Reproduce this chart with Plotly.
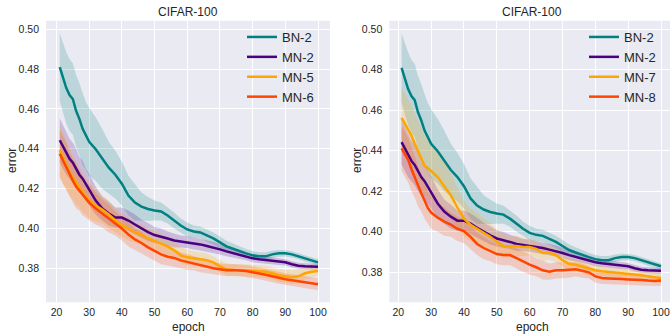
import plotly.graph_objects as go

epochs = [21, 22, 23, 24, 25, 26, 27, 28, 29, 30, 32, 34, 36, 38, 40, 42, 44, 46, 48, 50,
          52, 54, 56, 58, 60, 62, 64, 66, 68, 70, 72, 74, 76, 78, 80, 82, 84, 86, 88, 90,
          92, 94, 96, 98, 100]

bn2 = [0.481, 0.476, 0.4705, 0.467, 0.465, 0.459, 0.455, 0.450, 0.4465, 0.4435,
       0.4398, 0.435, 0.4305, 0.427, 0.4225, 0.4165, 0.413, 0.411, 0.4098, 0.409,
       0.4085, 0.4065, 0.404, 0.4015, 0.3995, 0.3985, 0.398, 0.3965, 0.395, 0.393,
       0.391, 0.3898, 0.3885, 0.3875, 0.3865, 0.386, 0.386, 0.387, 0.3875, 0.3875,
       0.387, 0.386, 0.3848, 0.384, 0.383]
bn2_sd = [0.017, 0.017, 0.018, 0.018, 0.018, 0.018, 0.018, 0.018, 0.017, 0.017,
          0.016, 0.015, 0.013, 0.012, 0.011, 0.010, 0.009, 0.007, 0.006, 0.005,
          0.0045, 0.004, 0.004, 0.0035, 0.0035, 0.003, 0.003, 0.003, 0.003, 0.003,
          0.0028, 0.0026, 0.0024, 0.0022, 0.002, 0.002, 0.002, 0.0018, 0.0017, 0.0016,
          0.0016, 0.0015, 0.0015, 0.0015, 0.0015]

mn2 = [0.4443, 0.441, 0.438, 0.435, 0.433, 0.430, 0.427, 0.425, 0.422, 0.4195,
       0.414, 0.410, 0.4075, 0.4055, 0.4055, 0.404, 0.402, 0.400, 0.3982, 0.3967,
       0.396, 0.395, 0.394, 0.3935, 0.3932, 0.3925, 0.392, 0.3912, 0.3905, 0.3895,
       0.3885, 0.3876, 0.3868, 0.386, 0.385, 0.3845, 0.3842, 0.3838, 0.3833, 0.383,
       0.382, 0.3813, 0.381, 0.381, 0.3808]
mn2_sd = [0.011, 0.011, 0.011, 0.010, 0.010, 0.010, 0.009, 0.009, 0.008, 0.008,
          0.007, 0.006, 0.006, 0.005, 0.005, 0.005, 0.005, 0.0045, 0.0045, 0.004,
          0.004, 0.0035, 0.0035, 0.003, 0.003, 0.003, 0.003, 0.003, 0.0028, 0.0026,
          0.0025, 0.0024, 0.0022, 0.002, 0.002, 0.002, 0.0018, 0.0018, 0.0017, 0.0016,
          0.0016, 0.0015, 0.0015, 0.0015, 0.0015]

mn5 = [0.4393, 0.4355, 0.432, 0.4285, 0.4255, 0.423, 0.4205, 0.418, 0.416, 0.414,
       0.4115, 0.4095, 0.407, 0.404, 0.4017, 0.400, 0.398, 0.397, 0.395, 0.3938,
       0.3926, 0.391, 0.389, 0.3865, 0.3855, 0.385, 0.3845, 0.384, 0.383, 0.381,
       0.3795, 0.379, 0.379, 0.379, 0.3788, 0.3785, 0.3783, 0.3775, 0.3765, 0.376,
       0.3755, 0.376, 0.3775, 0.3783, 0.3786]
mn5_sd = [0.013, 0.013, 0.012, 0.012, 0.011, 0.011, 0.010, 0.010, 0.009, 0.009,
          0.008, 0.007, 0.007, 0.006, 0.006, 0.006, 0.005, 0.005, 0.005, 0.005,
          0.0045, 0.0045, 0.004, 0.004, 0.004, 0.0035, 0.0035, 0.0035, 0.003, 0.003,
          0.003, 0.003, 0.003, 0.003, 0.003, 0.003, 0.003, 0.003, 0.0032, 0.0034,
          0.0035, 0.0035, 0.003, 0.003, 0.0025]

mn6 = [0.4375, 0.434, 0.431, 0.427, 0.424, 0.421, 0.419, 0.4165, 0.4145, 0.413,
       0.410, 0.4075, 0.405, 0.4025, 0.400, 0.397, 0.3945, 0.3927, 0.3905, 0.3888,
       0.387, 0.3858, 0.3852, 0.384, 0.3832, 0.3825, 0.3815, 0.381, 0.380, 0.3795,
       0.379, 0.3792, 0.379, 0.3786, 0.378, 0.3775, 0.3768, 0.376, 0.3752, 0.3745,
       0.374, 0.3735, 0.373, 0.3725, 0.372]
mn6_sd = [0.012, 0.012, 0.012, 0.011, 0.011, 0.011, 0.010, 0.010, 0.009, 0.009,
          0.008, 0.007, 0.007, 0.006, 0.006, 0.006, 0.0055, 0.0055, 0.005, 0.005,
          0.005, 0.0045, 0.0045, 0.004, 0.004, 0.0035, 0.0035, 0.0035, 0.003, 0.003,
          0.003, 0.003, 0.003, 0.003, 0.003, 0.003, 0.003, 0.003, 0.003, 0.003,
          0.003, 0.003, 0.003, 0.003, 0.003]

mn7 = [0.4563, 0.4535, 0.450, 0.4475, 0.4435, 0.440, 0.436, 0.4325, 0.4315, 0.430,
       0.427, 0.4225, 0.418, 0.412, 0.4065, 0.4035, 0.4015, 0.3995, 0.3975, 0.395,
       0.393, 0.3927, 0.393, 0.3925, 0.3925, 0.3915, 0.3895, 0.3897, 0.3885, 0.386,
       0.3842, 0.3837, 0.3828, 0.3817, 0.381, 0.3805, 0.3802, 0.3798, 0.3795, 0.3792,
       0.3792, 0.3786, 0.378, 0.3776, 0.377]
mn7_sd = [0.015, 0.015, 0.015, 0.015, 0.015, 0.015, 0.015, 0.015, 0.014, 0.014,
          0.013, 0.012, 0.011, 0.010, 0.009, 0.008, 0.008, 0.007, 0.007, 0.006,
          0.006, 0.005, 0.005, 0.0045, 0.004, 0.004, 0.004, 0.0035, 0.0035, 0.003,
          0.003, 0.003, 0.003, 0.003, 0.0028, 0.0026, 0.0025, 0.0025, 0.0025, 0.0025,
          0.0025, 0.0025, 0.0025, 0.0025, 0.0025]

mn8 = [0.4412, 0.438, 0.4355, 0.431, 0.427, 0.4225, 0.419, 0.4155, 0.4118, 0.4095,
       0.407, 0.405, 0.4035, 0.4015, 0.4003, 0.3975, 0.394, 0.392, 0.3905, 0.389,
       0.3885, 0.3885, 0.387, 0.3853, 0.3838, 0.3825, 0.381, 0.3803, 0.381, 0.381,
       0.3813, 0.3815, 0.3808, 0.380, 0.378, 0.3772, 0.377, 0.377, 0.3767, 0.3765,
       0.3765, 0.3762, 0.3759, 0.3757, 0.3759]
mn8_sd = [0.011, 0.011, 0.011, 0.011, 0.010, 0.010, 0.009, 0.009, 0.008, 0.008,
          0.007, 0.007, 0.006, 0.006, 0.006, 0.006, 0.0055, 0.0055, 0.005, 0.005,
          0.005, 0.005, 0.005, 0.005, 0.005, 0.0045, 0.0045, 0.004, 0.004, 0.004,
          0.004, 0.0035, 0.0035, 0.003, 0.003, 0.003, 0.003, 0.003, 0.003, 0.0028,
          0.0028, 0.0027, 0.0026, 0.0025, 0.0025]

x_ticks = [20, 30, 40, 50, 60, 70, 80, 90, 100]
y_ticks = [0.38, 0.40, 0.42, 0.44, 0.46, 0.48, 0.50]
title_text = "CIFAR-100"

left_series = [("BN-2", bn2, bn2_sd, "#008080", (0, 128, 128)),
               ("MN-2", mn2, mn2_sd, "#4B0082", (75, 0, 130)),
               ("MN-5", mn5, mn5_sd, "#FFA500", (255, 165, 0)),
               ("MN-6", mn6, mn6_sd, "#FF4500", (255, 69, 0))]
right_series = [("BN-2", bn2, bn2_sd, "#008080", (0, 128, 128)),
                ("MN-2", mn2, mn2_sd, "#4B0082", (75, 0, 130)),
                ("MN-7", mn7, mn7_sd, "#FFA500", (255, 165, 0)),
                ("MN-8", mn8, mn8_sd, "#FF4500", (255, 69, 0))]

W, H = 670, 335
FONT = "Liberation Sans, Arial, sans-serif"
TXT = "#262626"

fig = go.Figure()


def add_panel(series, xa, ya, legend_name):
    for name, m, sd, col, rgb in series:
        up = [a + b for a, b in zip(m, sd)]
        lo = [a - b for a, b in zip(m, sd)]
        fig.add_trace(go.Scatter(
            x=epochs + epochs[::-1], y=up + lo[::-1], fill="toself",
            fillcolor="rgba(%d,%d,%d,0.2)" % rgb, line=dict(width=0),
            mode="lines", hoverinfo="skip", showlegend=False,
            xaxis=xa, yaxis=ya))
    for name, m, sd, col, rgb in series:
        fig.add_trace(go.Scatter(
            x=epochs, y=m, mode="lines", name=name,
            line=dict(color=col, width=2.5),
            xaxis=xa, yaxis=ya, legend=legend_name))


add_panel(left_series, "x", "y", "legend")
add_panel(right_series, "x2", "y2", "legend2")

ydom = [1 - 302.3 / H, 1 - 20.7 / H]
axis_common = dict(showline=False, zeroline=False, gridcolor="white", gridwidth=1.2,
                   ticks="", tickfont=dict(family=FONT, size=10.5, color=TXT))

fig.update_layout(
    width=W, height=H,
    margin=dict(l=0, r=0, t=0, b=0),
    paper_bgcolor="white", plot_bgcolor="#EAEAF2",
    font=dict(family=FONT, color=TXT),
    xaxis=dict(domain=[46 / W, 330 / W], range=[16.79, 103.67],
               tickvals=x_ticks, ticklabelstandoff=2, **axis_common),
    yaxis=dict(domain=ydom, range=[0.36293, 0.50432], tickvals=y_ticks,
               tickformat=".2f", ticklabelstandoff=6, **axis_common),
    xaxis2=dict(domain=[389.3 / W, 1.0], range=[17.26, 102.74],
                tickvals=x_ticks, anchor="y2", ticklabelstandoff=2,
                ticklabeloverflow="allow", **axis_common),
    yaxis2=dict(domain=ydom, range=[0.36519, 0.50425], tickvals=y_ticks,
                tickformat=".2f", anchor="x2", ticklabelstandoff=6, **axis_common),
    legend=dict(x=242 / W, y=1 - 22 / H, xanchor="left", yanchor="top",
                bgcolor="rgba(0,0,0,0)", font=dict(family=FONT, size=13, color=TXT),
                tracegroupgap=0),
    legend2=dict(x=584 / W, y=1 - 22 / H, xanchor="left", yanchor="top",
                 bgcolor="rgba(0,0,0,0)", font=dict(family=FONT, size=13, color=TXT),
                 tracegroupgap=0),
)

annos = []
for cx in (188, 532):
    annos.append(dict(text=title_text, x=cx / W, y=1 - 12 / H, xref="paper", yref="paper",
                      showarrow=False, xanchor="center", yanchor="middle",
                      font=dict(family=FONT, size=12, color=TXT)))
    annos.append(dict(text="epoch", x=cx / W, y=1 - 327 / H, xref="paper", yref="paper",
                      showarrow=False, xanchor="center", yanchor="middle",
                      font=dict(family=FONT, size=12, color=TXT)))
for ex in (12, 357):
    annos.append(dict(text="error", x=ex / W, y=1 - 161 / H, xref="paper", yref="paper",
                      showarrow=False, xanchor="center", yanchor="middle", textangle=-90,
                      font=dict(family=FONT, size=12, color=TXT)))
fig.update_layout(annotations=annos)

fig.write_html("out.html", config={"displayModeBar": False},
               post_script="document.body.style.margin='0px';document.body.style.overflow='hidden';")
